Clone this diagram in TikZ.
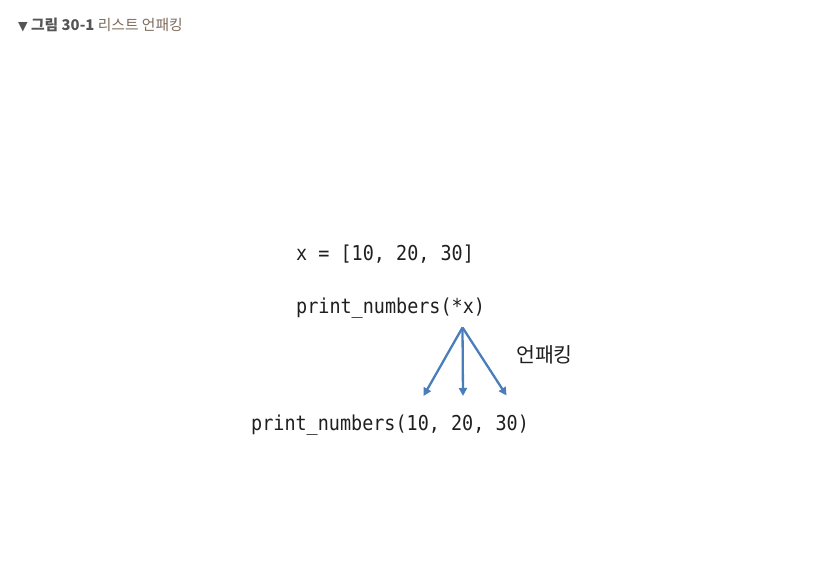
\documentclass[tikz,border=0pt]{standalone}
\usepackage{fontspec}
\newfontfamily\codefont[FakeStretch=0.9]{DejaVu Sans Mono}
\newfontfamily\krfont{Noto Sans CJK KR}
\newfontfamily\symfont{DejaVu Sans}
\usetikzlibrary{arrows.meta}
\definecolor{arrowblue}{HTML}{4A7EBB}
\definecolor{titlegray}{HTML}{555555}
\definecolor{titlebrown}{HTML}{7D6B5B}
\tikzset{
  code/.style={anchor=base west, inner sep=0pt, text=black!88, font=\codefont\fontsize{20.5}{22}\selectfont},
  kr/.style={anchor=base west, inner sep=0pt, text=black!88, font=\krfont\fontsize{20.5}{22}\selectfont},
  title/.style={anchor=base west, inner sep=0pt, font=\krfont\fontsize{14.8}{16}\selectfont},
  unpack/.style={draw=arrowblue, line width=2.3pt, -{Triangle[length=8pt,width=8pt]}}
}
\begin{document}
\begin{tikzpicture}[x=1pt,y=1pt]
\useasboundingbox (0,0) rectangle (824,580);
% title
\node[title] (ttl) at (18,549) {\textcolor{titlegray}{{\symfont\fontsize{12.5}{14}\selectfont ▼} \textbf{그림 30-1}} \textcolor{titlebrown}{리스트 언패킹}};
% code lines
\node[code] (list) at (296,319) {x = [10, 20, 30]};
\node[code] (call) at (296,266) {print\_numbers(*x)};
\node[code] (res) at (251,149) {print\_numbers(10, 20, 30)};
\node[kr] (lbl) at (516,217) {언패킹};
% arrows
\coordinate (apex) at (462.5,252.5);
\coordinate (t1) at (423.5,184);
\coordinate (t2) at (463,184);
\coordinate (t3) at (506.5,184.5);
\draw[unpack] (apex) -- (t1);
\draw[unpack] (apex) -- (t2);
\draw[unpack] (apex) -- (t3);
\end{tikzpicture}
\end{document}
